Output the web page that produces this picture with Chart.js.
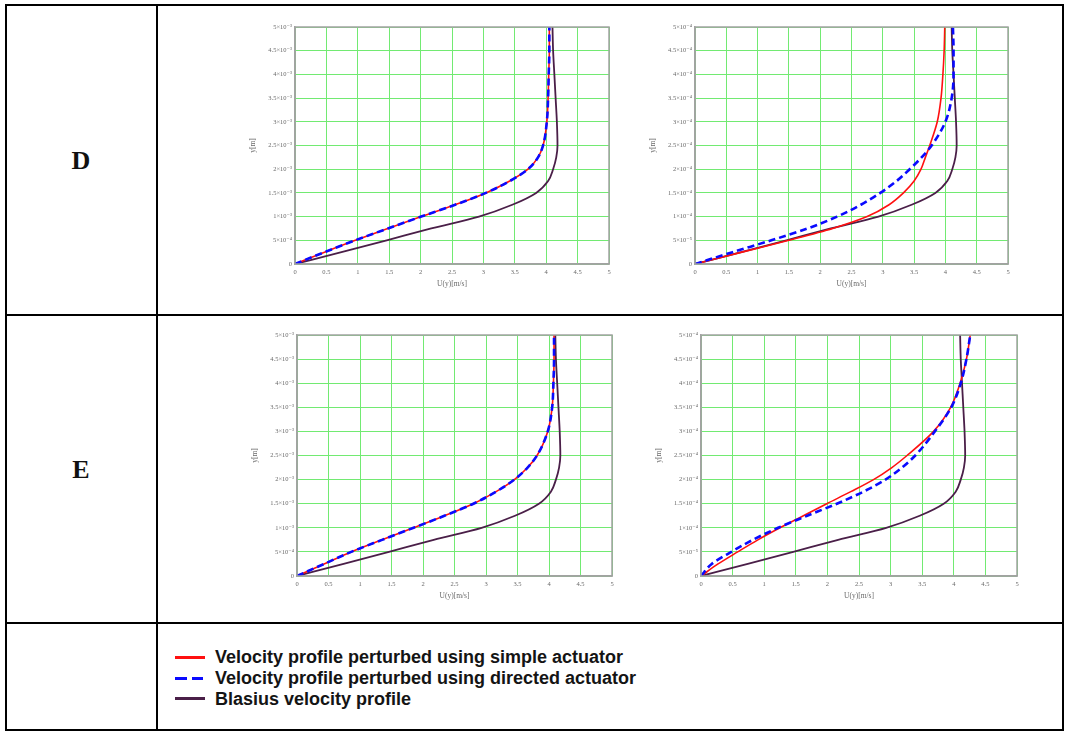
<!DOCTYPE html>
<html>
<head>
<meta charset="utf-8">
<script src="https://cdn.jsdelivr.net/npm/chart.js@4.4.1/dist/chart.umd.min.js"></script>
<style>
  html, body { margin:0; padding:0; background:#fff; }
  body { width:1065px; height:732px; position:relative; overflow:hidden; font-family:"Liberation Sans", Arial, sans-serif; }
  .hline, .vline { position:absolute; background:#000; }
  .rowlab { position:absolute; font-family:"Liberation Serif", "Times New Roman", serif; font-weight:bold; font-size:26px; color:#111; transform:translate(-50%,-50%); }
  .panel { position:absolute; }
  .legtxt { position:absolute; font-family:"Liberation Sans", Arial, sans-serif; font-weight:bold; color:#141414; white-space:nowrap; transform:translateY(-50%); }
  .sw { position:absolute; height:3px; }
</style>
</head>
<body>
<!-- table frame -->
<div class="hline" style="left:5px;top:4px;width:1059px;height:2px"></div>
<div class="hline" style="left:5px;top:314px;width:1059px;height:2px"></div>
<div class="hline" style="left:5px;top:622px;width:1059px;height:2px"></div>
<div class="hline" style="left:5px;top:729px;width:1059px;height:2px"></div>
<div class="vline" style="left:5px;top:4px;width:2px;height:727px"></div>
<div class="vline" style="left:156px;top:4px;width:2px;height:727px"></div>
<div class="vline" style="left:1062px;top:4px;width:2px;height:727px"></div>

<div class="rowlab" style="left:81px;top:161px">D</div>
<div class="rowlab" style="left:81px;top:470px">E</div>

<div class="panel" id="pDL"><canvas id="cDL"></canvas></div>
<div class="panel" id="pDR"><canvas id="cDR"></canvas></div>
<div class="panel" id="pEL"><canvas id="cEL"></canvas></div>
<div class="panel" id="pER"><canvas id="cER"></canvas></div>

<!-- legend -->
<div class="sw" style="left:175px;top:656px;width:30px;background:#ff1010"></div>
<div class="sw" style="left:175px;top:677px;width:12px;background:#0a0aff"></div>
<div class="sw" style="left:192px;top:677px;width:11px;background:#0a0aff"></div>
<div class="sw" style="left:175px;top:697px;width:30px;background:#4a1f48"></div>
<div class="legtxt" id="lg1" style="left:215px;top:657px"></div>
<div class="legtxt" id="lg2" style="left:215px;top:678px"></div>
<div class="legtxt" id="lg3" style="left:215px;top:699px"></div>

<script>
// ---------------- data ----------------
// wall-normal positions (in units of the panel's y scale)
const yLevels = [0, 0.25, 0.5, 0.75, 1, 1.25, 1.5, 1.75, 2, 2.25, 2.5, 3, 3.5, 4, 4.5, 5];

// Blasius profile U(y) [m/s]
const blasiusU = [0, 0.74, 1.46, 2.17, 2.93, 3.46, 3.84, 4.03, 4.11, 4.16, 4.18, 4.17, 4.15, 4.13, 4.11, 4.10];

// panel D, left
const dLeftSimpleU   = [0, 0.47, 0.96, 1.48, 2.01, 2.55, 3.04, 3.42, 3.71, 3.87, 3.95, 4.01, 4.03, 4.04, 4.05, 4.05];
const dLeftDirectedU = [0, 0.47, 0.96, 1.48, 2.01, 2.55, 3.04, 3.42, 3.71, 3.87, 3.95, 4.01, 4.03, 4.04, 4.05, 4.05];
// panel D, right
const dRightSimpleU   = [0, 0.75, 1.50, 2.20, 2.75, 3.10, 3.33, 3.50, 3.61, 3.68, 3.75, 3.87, 3.93, 3.96, 3.98, 3.99];
const dRightDirectedU = [0, 0.60, 1.22, 1.80, 2.27, 2.65, 2.96, 3.22, 3.43, 3.62, 3.78, 4.00, 4.10, 4.13, 4.13, 4.12];
// panel E, left
const eLeftSimpleU   = [0, 0.43, 0.86, 1.35, 1.85, 2.34, 2.80, 3.16, 3.45, 3.66, 3.81, 3.98, 4.05, 4.07, 4.08, 4.08];
const eLeftDirectedU = [0, 0.43, 0.86, 1.35, 1.85, 2.34, 2.80, 3.16, 3.45, 3.66, 3.81, 3.98, 4.05, 4.07, 4.08, 4.08];
// panel E, right
const eRightSimpleU   = [0, 0.27, 0.58, 0.90, 1.25, 1.62, 1.99, 2.37, 2.73, 3.02, 3.26, 3.68, 3.95, 4.10, 4.20, 4.26];
const eRightDirectedU = [0, 0.17, 0.48, 0.82, 1.22, 1.68, 2.15, 2.57, 2.92, 3.18, 3.39, 3.70, 3.96, 4.11, 4.20, 4.26];

// tick labels
const uTickLabels = ['0', '0.5', '1', '1.5', '2', '2.5', '3', '3.5', '4', '4.5', '5'];
const yTickLabelsLeft  = ['0', '5×10⁻⁴', '1×10⁻³', '1.5×10⁻³', '2×10⁻³', '2.5×10⁻³', '3×10⁻³', '3.5×10⁻³', '4×10⁻³', '4.5×10⁻³', '5×10⁻³'];
const yTickLabelsRight = ['0', '5×10⁻⁵', '1×10⁻⁴', '1.5×10⁻⁴', '2×10⁻⁴', '2.5×10⁻⁴', '3×10⁻⁴', '3.5×10⁻⁴', '4×10⁻⁴', '4.5×10⁻⁴', '5×10⁻⁴'];

const seriesNames = [
  'Velocity profile perturbed using simple actuator',
  'Velocity profile perturbed using directed actuator',
  'Blasius velocity profile'
];

// ---------------- drawing ----------------
const Y_AXIS_W = 46, X_AXIS_H = 25, PAD_T = 12, PAD_R = 11;

const frame = {
  id: 'frame',
  afterDraw(chart) {
    const a = chart.chartArea, ctx = chart.ctx;
    ctx.save();
    ctx.strokeStyle = '#a2a2a2';
    ctx.lineWidth = 1.5;
    ctx.strokeRect(a.left, a.top, a.right - a.left, a.bottom - a.top);
    ctx.restore();
  }
};

function pts(u) { return yLevels.map((y, i) => ({ x: u[i], y: y })); }

function makePanel(id, rect, simpleU, directedU, yLabels) {
  const W = (rect.x1 - rect.x0) + Y_AXIS_W + PAD_R;
  const H = (rect.y1 - rect.y0) + PAD_T + X_AXIS_H;
  const div = document.getElementById('p' + id);
  div.style.left = (rect.x0 - Y_AXIS_W) + 'px';
  div.style.top = (rect.y0 - PAD_T) + 'px';
  const cv = document.getElementById('c' + id);
  cv.width = W; cv.height = H;
  cv.style.width = W + 'px'; cv.style.height = H + 'px';
  const tickFont = { family: '"Liberation Serif", "DejaVu Serif", serif', size: 6.5 };
  new Chart(cv, {
    type: 'line',
    data: {
      datasets: [
        { label: seriesNames[1], data: pts(directedU), borderColor: '#0a0aff', borderWidth: 2.6, borderDash: [7, 4], order: 0 },
        { label: seriesNames[0], data: pts(simpleU), borderColor: '#ff1010', borderWidth: 1.6, order: 1 },
        { label: seriesNames[2], data: pts(blasiusU), borderColor: '#4a1f48', borderWidth: 1.8, order: 2 }
      ]
    },
    options: {
      indexAxis: 'y',
      responsive: false,
      devicePixelRatio: 1,
      animation: false,
      layout: { padding: { top: PAD_T, right: PAD_R, left: 0, bottom: 0 } },
      elements: {
        point: { radius: 0 },
        line: { cubicInterpolationMode: 'monotone', fill: false }
      },
      plugins: { legend: { display: false }, tooltip: { enabled: false } },
      scales: {
        x: {
          type: 'linear', position: 'bottom', min: 0, max: 5,
          grid: { color: '#72ea72', lineWidth: 1, drawTicks: false },
          border: { color: '#a2a2a2', width: 1.5 },
          ticks: { stepSize: 0.5, autoSkip: false, maxRotation: 0, padding: 4, color: '#6a6a6a', font: tickFont,
                   callback: (v, i) => uTickLabels[i] },
          title: { display: true, text: 'U(y)[m/s]', color: '#6a6a6a', padding: 0,
                   font: { family: '"Liberation Serif", "DejaVu Serif", serif', size: 7.5 } },
          afterFit: s => { s.height = X_AXIS_H; }
        },
        y: {
          type: 'linear', position: 'left', min: 0, max: 5,
          grid: { color: '#72ea72', lineWidth: 1, drawTicks: false },
          border: { color: '#a2a2a2', width: 1.5 },
          ticks: { stepSize: 0.5, autoSkip: false, padding: 3, color: '#6a6a6a', font: tickFont,
                   callback: (v, i) => yLabels[i] },
          title: { display: true, text: 'y[m]', color: '#6a6a6a', padding: 0,
                   font: { family: '"Liberation Serif", "DejaVu Serif", serif', size: 7.5 } },
          afterFit: s => { s.width = Y_AXIS_W; }
        }
      }
    },
    plugins: [frame]
  });
}

makePanel('DL', { x0: 295, x1: 609, y0: 27, y1: 264 }, dLeftSimpleU, dLeftDirectedU, yTickLabelsLeft);
makePanel('DR', { x0: 695, x1: 1008, y0: 27, y1: 264 }, dRightSimpleU, dRightDirectedU, yTickLabelsRight);
makePanel('EL', { x0: 297, x1: 612, y0: 335, y1: 576 }, eLeftSimpleU, eLeftDirectedU, yTickLabelsLeft);
makePanel('ER', { x0: 701, x1: 1017, y0: 335, y1: 576 }, eRightSimpleU, eRightDirectedU, yTickLabelsRight);

// legend text, sized so the first line spans ~413px like the reference
(function () {
  const ids = ['lg1', 'lg2', 'lg3'];
  const c = document.createElement('canvas').getContext('2d');
  c.font = 'bold 100px "Liberation Sans", Arial, sans-serif';
  const w100 = c.measureText(seriesNames[0]).width;
  const size = Math.min(18, 413 * 100 / w100);
  ids.forEach((id, i) => {
    const el = document.getElementById(id);
    el.textContent = seriesNames[i];
    el.style.fontSize = size + 'px';
  });
})();
</script>
</body>
</html>
